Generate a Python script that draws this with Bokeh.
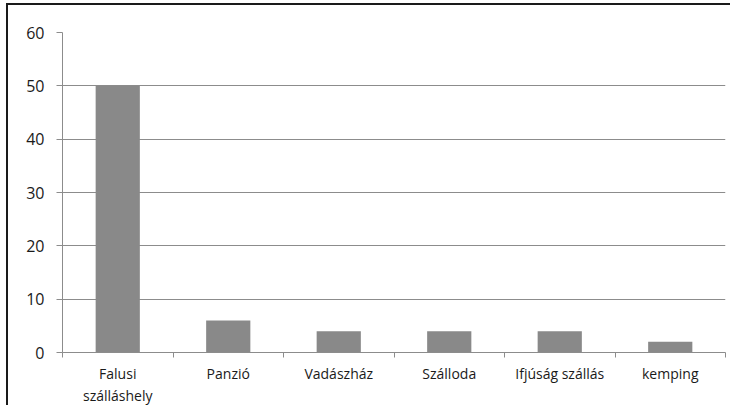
from bokeh.plotting import figure
from bokeh.models import Range1d, FixedTicker
from bokeh.embed import file_html
from bokeh.resources import INLINE

categories = ["Falusi\nszálláshely", "Panzió", "Vadászház", "Szálloda", "Ifjúság szállás", "kemping"]
values = [50, 6, 4, 4, 4, 2]
y_ticks = [0, 10, 20, 30, 40, 50, 60]

n = len(categories)
xs = [i + 0.5 for i in range(n)]

p = figure(frame_width=663, frame_height=320, output_backend="svg", toolbar_location=None,
           x_range=Range1d(0, n), y_range=Range1d(0, 60),
           min_border_left=62, min_border_right=5, min_border_top=32, min_border_bottom=50)

p.vbar(x=xs, top=values, width=0.4, fill_color="#898989", line_color=None)

p.outline_line_color = None
p.background_fill_color = "white"
p.border_fill_color = None

p.xgrid.visible = False
p.ygrid.ticker = FixedTicker(ticks=y_ticks)
p.ygrid.grid_line_color = "#8c8c8c"
p.ygrid.grid_line_width = 1

yax = p.yaxis[0]
yax.ticker = FixedTicker(ticks=y_ticks)
yax.axis_line_color = "#8c8c8c"
yax.major_tick_line_color = "#8c8c8c"
yax.major_tick_out = 6
yax.major_tick_in = 0
yax.minor_tick_line_color = None
yax.major_label_text_font = "Open Sans"
yax.major_label_text_font_size = "16px"
yax.major_label_text_color = "#1a1a1a"
yax.major_label_standoff = 12

xax = p.xaxis[0]
xax.ticker = FixedTicker(ticks=xs, minor_ticks=list(range(n + 1)))
xax.major_label_overrides = {x: c for x, c in zip(xs, categories)}
xax.axis_line_color = "#8c8c8c"
xax.major_tick_line_color = None
xax.major_tick_out = 0
xax.major_tick_in = 0
xax.minor_tick_line_color = "#8c8c8c"
xax.minor_tick_out = 5
xax.minor_tick_in = 0
xax.major_label_text_font = "Open Sans"
xax.major_label_text_font_size = "14px"
xax.major_label_text_color = "#1a1a1a"
xax.major_label_standoff = 6

p.styles = {
    "background": "linear-gradient(#1a1a1a, #1a1a1a) 6px 3px / 724px 2px no-repeat, "
                  "linear-gradient(#1a1a1a, #1a1a1a) 6px 3px / 2px 402px no-repeat, white"
}

open("out.html", "w").write(file_html(p, INLINE))
